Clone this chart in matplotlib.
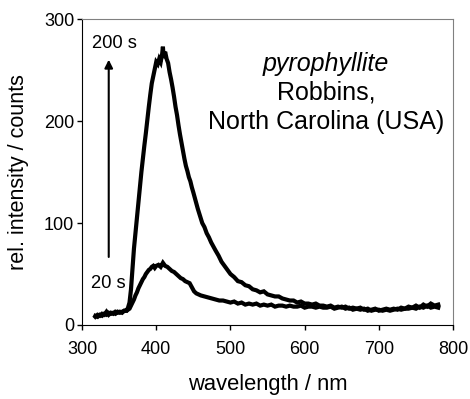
import matplotlib
matplotlib.use("Agg")
import matplotlib.pyplot as plt

plt.rcParams['font.family'] = ['Liberation Sans', 'DejaVu Sans']

# 200 s spectrum
wl_200 = [318, 321, 324, 327, 330, 333, 336, 339, 342, 345, 348, 351, 354, 357, 360, 362, 364, 366,
          368, 370, 372, 374, 376, 378, 380, 382, 384, 386, 388, 390, 392, 394, 396, 398, 400, 402,
          404, 406, 408, 409, 410, 412, 414, 416, 418, 420, 422, 424, 426, 428, 430, 432, 434, 436,
          438, 440, 442, 444, 446, 448, 450, 453, 456, 459, 462, 465, 468, 471, 474, 477, 480, 484,
          488, 492, 496, 500, 505, 510, 515, 520, 525, 530, 535, 540, 545, 550, 555, 560, 565, 570,
          575, 580, 585, 590, 595, 600, 605, 610, 615, 620, 625, 630, 635, 640, 645, 650, 655, 660,
          665, 670, 675, 680, 685, 690, 695, 700, 705, 710, 715, 720, 725, 730, 735, 740, 745, 750,
          755, 760, 765, 770, 775, 780]
int_200 = [8, 10, 9, 11, 10, 13, 10, 12, 11, 13, 12, 13, 12, 14, 14, 17, 22, 35,
           55, 75, 90, 105, 120, 135, 150, 163, 176, 188, 201, 214, 226, 237, 244, 251, 258, 256,
           261, 258, 266, 273, 262, 268, 261, 257, 248, 241, 233, 224, 214, 206, 196, 187, 179, 171,
           163, 156, 151, 145, 141, 135, 130, 122, 114, 107, 100, 96, 90, 86, 81, 77, 73, 68,
           62, 58, 54, 50, 47, 43, 42, 39, 38, 35, 34, 32, 33, 30, 29, 28, 28, 26,
           25, 24, 24, 22, 23, 21, 21, 20, 21, 19, 19, 18, 19, 17, 18, 17, 18, 16,
           17, 16, 15, 16, 14, 15, 16, 14, 15, 16, 15, 16, 15, 17, 16, 18, 17, 19,
           17, 20, 18, 21, 19, 20]

# 20 s spectrum
wl_20 = [318, 321, 324, 327, 330, 333, 336, 339, 342, 345, 348, 351, 354, 357, 360, 362, 364, 366,
         368, 370, 372, 374, 376, 378, 380, 382, 384, 386, 388, 390, 392, 394, 396, 398, 400, 403,
         406, 409, 412, 415, 418, 421, 424, 427, 430, 433, 436, 439, 442, 445, 448, 451, 454, 457,
         460, 465, 470, 475, 480, 485, 490, 495, 500, 505, 510, 515, 520, 525, 530, 535, 540, 545,
         550, 555, 560, 565, 570, 575, 580, 585, 590, 595, 600, 605, 610, 615, 620, 625, 630, 635,
         640, 645, 650, 655, 660, 665, 670, 675, 680, 685, 690, 695, 700, 705, 710, 715, 720, 725,
         730, 735, 740, 745, 750, 755, 760, 765, 770, 775, 780]
int_20 = [9, 8, 10, 9, 11, 10, 12, 11, 12, 11, 13, 12, 13, 14, 14, 15, 16, 19,
          22, 25, 29, 32, 36, 39, 42, 45, 47, 50, 52, 54, 55, 57, 58, 56, 58, 59,
          57, 61, 58, 57, 55, 53, 52, 50, 48, 46, 45, 43, 42, 41, 37, 33, 31, 30,
          29, 28, 27, 26, 25, 24, 24, 23, 22, 23, 21, 22, 20, 21, 20, 21, 19, 20,
          19, 20, 18, 19, 19, 18, 19, 18, 18, 19, 17, 18, 18, 17, 18, 17, 17, 18,
          16, 17, 18, 16, 17, 15, 16, 17, 15, 16, 14, 15, 15, 14, 15, 14, 15, 16,
          15, 16, 16, 17, 16, 18, 17, 19, 17, 18, 17]

x_ticks = [300, 400, 500, 600, 700, 800]
y_ticks = [0, 100, 200, 300]

fig = plt.figure(figsize=(4.70, 3.99), dpi=100)
ax = fig.add_axes([0.1745, 0.1855, 0.7895, 0.7665])

ax.plot(wl_200, int_200, color='black', lw=3.0, solid_joinstyle='miter')
ax.plot(wl_20, int_20, color='black', lw=3.0, solid_joinstyle='miter')

ax.set_xlim(300, 800)
ax.set_ylim(0, 300)
ax.set_xticks(x_ticks)
ax.set_yticks(y_ticks)
ax.tick_params(direction='out', length=3.6, width=1, labelsize=13)
ax.tick_params(axis='x', pad=8)
ax.tick_params(axis='y', pad=2)

for s in ['top', 'right']:
    ax.spines[s].set_color('#808080')
for s in ['left', 'bottom']:
    ax.spines[s].set_color('black')

ax.set_xlabel('wavelength / nm', fontsize=15.8)
ax.set_ylabel('rel. intensity / counts', fontsize=15.5)
ax.xaxis.set_label_coords(0.5, -0.196)
ax.xaxis.label.set_va('center')
ax.yaxis.set_label_coords(-0.1725, 0.5)
ax.yaxis.label.set_va('center')

ax.annotate('', xy=(336, 263), xytext=(336, 64),
            arrowprops=dict(arrowstyle='-|>', color='black', lw=1.5, mutation_scale=12))
ax.text(344, 276, '200 s', fontsize=13.2, ha='center', va='center')
ax.text(335, 41, '20 s', fontsize=13.2, ha='center', va='center')

ax.text(629, 256, 'pyrophyllite', fontsize=18, style='italic', ha='center', va='center')
ax.text(629, 228, 'Robbins,', fontsize=18, ha='center', va='center')
ax.text(629, 199, 'North Carolina (USA)', fontsize=18, ha='center', va='center')

fig.savefig('out.png', dpi=100)
